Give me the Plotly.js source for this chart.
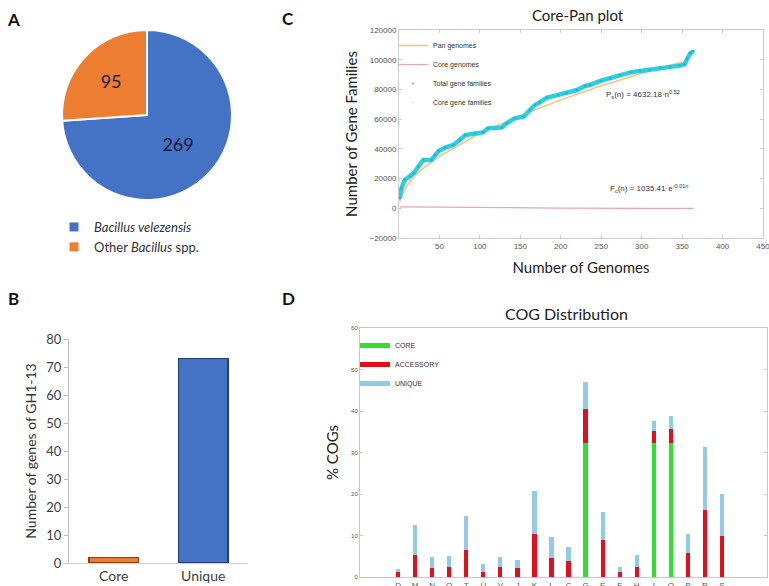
<!DOCTYPE html>
<html>
<head>
<meta charset="utf-8">
<script src="https://cdn.plot.ly/plotly-3.0.1.min.js"></script>
<style>html,body{margin:0;padding:0;background:#fff;}#chart{width:769px;height:586px;}</style>
</head>
<body>
<div id="chart"></div>
<script>
// ---------- Panel A: pie ----------
const pieLabels = ['<i>Bacillus velezensis</i>', 'Other <i>Bacillus</i> spp.'];
const pieValues = [269, 95];
const pieColors = ['#4472C4', '#ED7D31'];

// ---------- Panel B: GH1-13 genes ----------
const ghCategories = ['Core', 'Unique'];
const ghValues = [2, 73];

// ---------- Panel C: Core-Pan plot ----------
const totalN = [1,3,7,14,18,24,30,40,45,49,57,67,75,82,94,104,110,127,133,143,154,162,168,174,183,197,207,220,230,236,249,261,273,286,298,310,323,335,347,353,356,360,364];
const totalFamilies = [6700,13500,19000,21300,23500,28000,32500,32500,35900,38500,40800,42600,46000,49300,50400,51100,53800,54300,57200,60500,61700,66200,69500,71300,74500,76300,77400,79600,82300,83000,85700,87500,89700,91500,92400,93100,94200,95300,96000,96900,100900,104300,105900];
const fitN = [1,3,6,10,20,30,50,75,100,150,200,250,300,350];
const panFit = [4600,8000,11200,15300,22000,27000,35000,43000,50500,62500,73000,82500,90800,98500];
const coreN = [1,100,200,300,364];
const coreGenome = [1000,400,100,0,0];

// ---------- Panel D: COG distribution ----------
const cogCategories = ['D','M','N','O','T','U','V','J','K','L','C','G','E','F','H','I','Q','P','R','S'];
const cogCore =      [0,0,0,0,0,0,0,0,0,0,0,32.2,0,0,0,32.3,32.2,0,0,0];
const cogAccessory = [1.3,5.4,2.1,2.3,6.4,1.3,2.4,2.1,10.4,4.6,3.8,8.2,8.8,1.3,2.5,2.8,3.5,5.9,16.1,10.0];
const cogUnique =    [0.6,7.1,2.8,2.8,8.4,1.8,2.4,2.0,10.3,5.1,3.4,6.7,6.8,1.1,2.8,2.4,3.1,4.5,15.3,10.1];

const W = 769, H = 586;
const px = x => x / W;
const py = y => 1 - y / H;

const sans = 'Lato, "Open Sans", sans-serif';
const small = '"Liberation Sans", Arial, sans-serif';

const traces = [
  // Pie
  {
    type: 'pie', labels: pieLabels, values: pieValues, sort: false,
    direction: 'clockwise', rotation: 0,
    marker: {colors: pieColors, line: {color: '#ffffff', width: 2}},
    textinfo: 'value', textposition: 'inside', insidetextorientation: 'horizontal',
    textfont: {family: sans, size: 18, color: '#141a33'},
    domain: {x: [px(62), px(232)], y: [py(200), py(30)]},
    showlegend: false, hoverinfo: 'none'
  },
  // Pie legend entries
  {type: 'scatter', x: [null], y: [null], mode: 'markers', name: pieLabels[0],
   marker: {symbol: 'square', size: 9, color: pieColors[0]}, legend: 'legend2', legendgroup: 'pa', xaxis: 'x', yaxis: 'y'},
  {type: 'scatter', x: [null], y: [null], mode: 'markers', name: pieLabels[1],
   marker: {symbol: 'square', size: 9, color: pieColors[1]}, legend: 'legend2', legendgroup: 'pb', xaxis: 'x', yaxis: 'y'},
  // Panel B bars
  {
    type: 'bar', x: ghCategories, y: ghValues, xaxis: 'x', yaxis: 'y', width: 0.55,
    marker: {color: ['#ED7D31', '#4472C4'], line: {color: ['#8a3f10', '#223f75'], width: 1.5}},
    showlegend: false, hoverinfo: 'none'
  },
  // Panel C
  {type: 'scatter', x: fitN, y: panFit, mode: 'lines', name: 'Pan genomes',
   line: {color: '#f6c27a', width: 1.5}, xaxis: 'x2', yaxis: 'y2', legend: 'legend'},
  {type: 'scatter', x: coreN, y: coreGenome, mode: 'lines', name: 'Core genomes',
   line: {color: '#eda4b4', width: 1.2}, xaxis: 'x2', yaxis: 'y2', legend: 'legend'},
  {type: 'scatter', x: totalN, y: totalFamilies, mode: 'lines+markers', name: 'Total gene families',
   line: {color: '#2ccfe0', width: 4.5}, marker: {color: '#22b5c6', size: 2.5},
   xaxis: 'x2', yaxis: 'y2', showlegend: false},
  {type: 'scatter', x: [null], y: [null], mode: 'markers', name: 'Total gene families',
   marker: {color: '#999', size: 2}, xaxis: 'x2', yaxis: 'y2', legend: 'legend'},
  {type: 'scatter', x: [null], y: [null], mode: 'markers', name: 'Core gene families',
   marker: {color: '#ddd', size: 2}, xaxis: 'x2', yaxis: 'y2', legend: 'legend'},
  // Panel D
  {type: 'bar', x: cogCategories, y: cogCore, name: 'CORE', width: 0.25,
   marker: {color: '#2fe02f'}, xaxis: 'x3', yaxis: 'y3', showlegend: false, hoverinfo: 'none'},
  {type: 'bar', x: cogCategories, y: cogAccessory, name: 'ACCESSORY', width: 0.25,
   marker: {color: '#e0101e'}, xaxis: 'x3', yaxis: 'y3', showlegend: false, hoverinfo: 'none'},
  {type: 'bar', x: cogCategories, y: cogUnique, name: 'UNIQUE', width: 0.25,
   marker: {color: '#93cbe6'}, xaxis: 'x3', yaxis: 'y3', showlegend: false, hoverinfo: 'none'},
  {type: 'scatter', x: [null], y: [null], mode: 'lines', name: 'CORE', line: {color: '#2fe02f', width: 5},
   xaxis: 'x3', yaxis: 'y3', legend: 'legend3'},
  {type: 'scatter', x: [null], y: [null], mode: 'lines', name: 'ACCESSORY', line: {color: '#e0101e', width: 5},
   xaxis: 'x3', yaxis: 'y3', legend: 'legend3'},
  {type: 'scatter', x: [null], y: [null], mode: 'lines', name: 'UNIQUE', line: {color: '#93cbe6', width: 5},
   xaxis: 'x3', yaxis: 'y3', legend: 'legend3'}
];

const ann = (text, x, y, font, extra) => Object.assign({
  text: text, x: x, y: y, xref: 'paper', yref: 'paper', showarrow: false,
  xanchor: 'center', yanchor: 'middle', font: font
}, extra || {});

const letterFont = {family: sans, size: 17, color: '#111'};

const layout = {
  width: W, height: H,
  margin: {l: 0, r: 0, t: 0, b: 0},
  paper_bgcolor: '#ffffff', plot_bgcolor: '#ffffff',
  font: {family: sans, color: '#222'},
  barmode: 'stack',
  // Panel B axes
  xaxis: {
    domain: [px(69), px(248)], anchor: 'y', type: 'category',
    showline: true, linecolor: '#d0d0d0', linewidth: 1, ticks: '', showgrid: false,
    tickfont: {family: sans, size: 14, color: '#404040'}, fixedrange: true
  },
  yaxis: {
    domain: [py(563), py(339)], anchor: 'x', range: [0, 80], dtick: 10,
    showline: true, linecolor: '#c0c0c0', ticks: 'outside', ticklen: 4, tickcolor: '#c0c0c0',
    showgrid: false, zeroline: false,
    tickfont: {family: sans, size: 13, color: '#404040'},
    title: {text: 'Number of genes of GH1-13', font: {family: sans, size: 14, color: '#333'}, standoff: 6}
  },
  // Panel C axes
  xaxis2: {
    domain: [px(399), px(763)], anchor: 'y2', range: [0, 450],
    tickvals: [50,100,150,200,250,300,350,400,450], ticklabeloverflow: 'allow',
    showline: true, mirror: 'ticks', linecolor: '#cccccc', ticks: 'inside', ticklen: 3, tickcolor: '#cccccc',
    showgrid: false, zeroline: false,
    tickfont: {family: small, size: 8, color: '#555'},
    title: {text: 'Number of Genomes', font: {family: sans, size: 15, color: '#222'}, standoff: 12}
  },
  yaxis2: {
    domain: [py(238), py(30)], anchor: 'x2', range: [-20000, 120000], dtick: 20000, tickformat: 'd',
    showline: true, mirror: 'ticks', linecolor: '#cccccc', ticks: 'inside', ticklen: 3, tickcolor: '#cccccc',
    showgrid: false, zeroline: false,
    tickfont: {family: small, size: 8, color: '#555'},
    title: {text: 'Number of Gene Families', font: {family: sans, size: 15, color: '#222'}, standoff: 8}
  },
  // Panel D axes
  xaxis3: {
    domain: [px(360), px(767)], anchor: 'y3', type: 'category', range: [-2.23, 21.64],
    showline: true, mirror: true, linecolor: '#c8c8c8', ticks: '', showgrid: false,
    tickfont: {family: small, size: 8, color: '#555'}
  },
  yaxis3: {
    domain: [py(577), py(328)], anchor: 'x3', range: [0, 60], dtick: 10,
    showline: true, mirror: 'ticks', linecolor: '#c8c8c8', ticks: 'inside', ticklen: 3, tickcolor: '#c8c8c8',
    showgrid: false, zeroline: false,
    tickfont: {family: small, size: 6, color: '#555'},
    title: {text: '% COGs', font: {family: sans, size: 15, color: '#222'}, standoff: 8}
  },
  legend: {
    x: px(393), y: py(31), xanchor: 'left', yanchor: 'top', traceorder: 'normal',
    font: {family: small, size: 7, color: '#333'}, bgcolor: 'rgba(0,0,0,0)', tracegroupgap: 0
  },
  legend2: {
    x: px(54), y: py(212), xanchor: 'left', yanchor: 'top', traceorder: 'normal',
    font: {family: sans, size: 13, color: '#333'}, bgcolor: 'rgba(0,0,0,0)', tracegroupgap: 8
  },
  legend3: {
    x: px(355), y: py(331), xanchor: 'left', yanchor: 'top', traceorder: 'normal',
    font: {family: small, size: 7, color: '#333'}, bgcolor: 'rgba(0,0,0,0)', tracegroupgap: 0
  },
  annotations: [
    ann('<b>A</b>', px(13), py(20), letterFont),
    ann('<b>B</b>', px(13), py(298), letterFont),
    ann('<b>C</b>', px(288), py(18), letterFont),
    ann('<b>D</b>', px(288), py(298), letterFont),
    ann('Core-Pan plot', px(578), py(15), {family: sans, size: 15, color: '#222'}),
    ann('COG Distribution', px(566), py(313), {family: sans, size: 16, color: '#222'}),
    ann('P<sub>s</sub>(n) = 4632.18·n<sup>0.52</sup>', 302, 76900, {family: small, size: 8, color: '#333'}, {xref: 'x2', yref: 'y2'}),
    ann('F<sub>c</sub>(n) = 1035.41·e<sup>-0.01n</sup>', 310, 13000, {family: small, size: 8, color: '#333'}, {xref: 'x2', yref: 'y2'})
  ]
};

Plotly.newPlot('chart', traces, layout, {staticPlot: true, displayModeBar: false});
</script>
</body>
</html>
